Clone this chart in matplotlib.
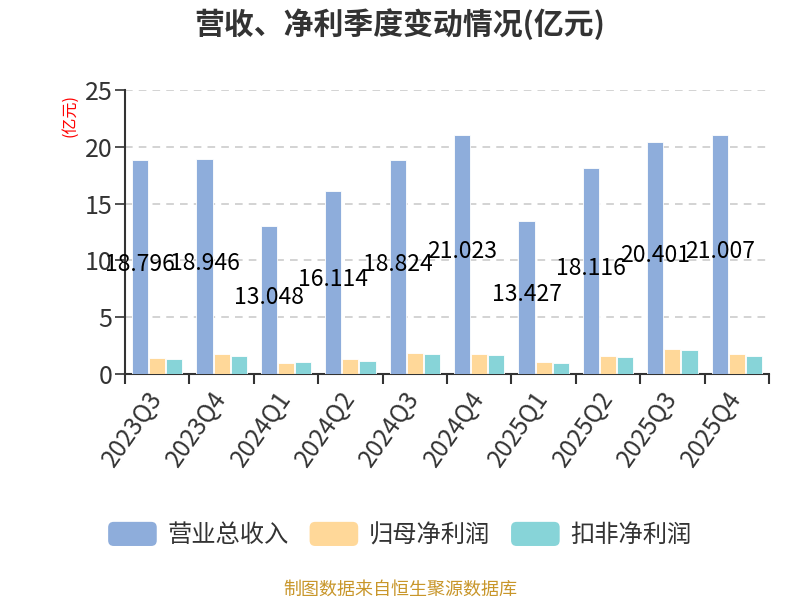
import numpy as np
import matplotlib
matplotlib.use("Agg")
import matplotlib.pyplot as plt
from matplotlib.patches import FancyBboxPatch
from matplotlib.legend_handler import HandlerPatch

plt.rcParams['font.family'] = ['Noto Sans CJK SC', 'DejaVu Sans']

# -- data --
quarters = ["2023Q3", "2023Q4", "2024Q1", "2024Q2", "2024Q3",
            "2024Q4", "2025Q1", "2025Q2", "2025Q3", "2025Q4"]
revenue = [18.796, 18.946, 13.048, 16.114, 18.824, 21.023, 13.427, 18.116, 20.401, 21.007]
net_profit = [1.43, 1.73, 0.97, 1.29, 1.82, 1.73, 1.09, 1.61, 2.23, 1.79]
net_profit_ded = [1.35, 1.61, 1.06, 1.14, 1.73, 1.70, 0.99, 1.50, 2.11, 1.58]
series_names = ["营业总收入", "归母净利润", "扣非净利润"]
colors = ["#8EADDB", "#FFD899", "#87D4D8"]


class RoundHandler(HandlerPatch):
    def create_artists(self, legend, orig_handle, xdescent, ydescent, width, height, fontsize, trans):
        p = FancyBboxPatch((-xdescent, -ydescent), width, height,
                           boxstyle="round,pad=0,rounding_size=4",
                           facecolor=orig_handle.get_facecolor(), edgecolor="none",
                           transform=trans)
        return [p]


fig = plt.figure(figsize=(8, 6), dpi=100)
ax = fig.add_axes([0.15625, 1 - 374 / 600, 0.805, (374 - 90) / 600])

x = np.arange(len(quarters))
w = 0.25
offs = [-0.265, 0, 0.265]
bars = []
for k, vals in enumerate([revenue, net_profit, net_profit_ded]):
    b = ax.bar(x + offs[k], vals, width=w, color=colors[k], edgecolor="white",
               linewidth=0.6, label=series_names[k], zorder=3)
    bars.append(b)

# value labels on revenue bars
for i, v in enumerate(revenue):
    ax.text(x[i] + offs[0], v / 2 + 0.25, f"{v:.3f}", ha="center", va="center",
            fontsize=16.5, color="black", zorder=5)

ax.set_ylim(0, 25)
ax.set_yticks([0, 5, 10, 15, 20, 25])
ax.set_xlim(-0.5, len(quarters) - 0.5)
ax.yaxis.grid(True, linestyle=(0, (5, 4)), color="#c8c8c8", linewidth=1.1, zorder=0)
ax.set_axisbelow(True)

for s in ["top", "right"]:
    ax.spines[s].set_visible(False)
ax.spines["left"].set_color("#333333")
ax.spines["bottom"].set_color("#333333")
ax.spines["left"].set_linewidth(1.5)
ax.spines["bottom"].set_linewidth(1.5)

ax.tick_params(axis="y", length=7, width=1.2, color="#333333", labelsize=18,
               labelcolor="#333333", pad=2)
ax.set_xticks(x)
ax.set_xticklabels(quarters, rotation=55, ha="right", va="center",
                   rotation_mode="anchor", fontsize=17.5, color="#333333")
ax.tick_params(axis="x", which="major", length=0, pad=14)
ax.set_xticks(np.arange(-0.5, len(quarters)), minor=True)
ax.tick_params(axis="x", which="minor", length=7, width=1.5, color="#333333")

ax.text(-0.085, 0.91, "(亿元)", transform=ax.transAxes, rotation=90,
        color="red", fontsize=11.5, ha="center", va="center")

fig.text(0.5, 1 - 24 / 600, "营收、净利季度变动情况(亿元)", ha="center", va="center",
         fontsize=21.5, fontweight="bold", color="#333333")

leg = fig.legend(handles=[b[0] for b in bars], labels=series_names, loc="center",
                 bbox_to_anchor=(0.5, 1 - 535 / 600), ncol=3, frameon=False,
                 fontsize=17.5, handlelength=2.0, handleheight=1.15,
                 handletextpad=0.45, columnspacing=0.85,
                 handler_map={matplotlib.patches.Rectangle: RoundHandler()})
for t in leg.get_texts():
    t.set_color("#333333")

fig.text(0.5, 1 - 590 / 600, "制图数据来自恒生聚源数据库", ha="center", va="center",
         fontsize=13, color="#C8962A")

fig.savefig("out.png", dpi=100)
